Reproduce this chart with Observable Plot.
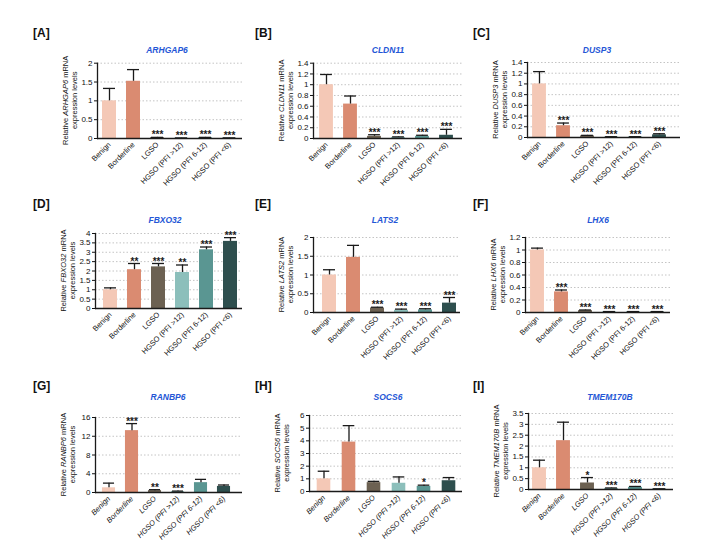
<!DOCTYPE html>
<html><head><meta charset="utf-8">
<script src="https://cdn.jsdelivr.net/npm/d3@7"></script>
<script src="https://cdn.jsdelivr.net/npm/@observablehq/plot@0.6"></script>
<style>
body{margin:0;background:#fff;font-family:"Liberation Sans",Arial,sans-serif;}
#root{position:relative;width:714px;height:552px;overflow:hidden;background:#fff;}
#root svg{position:absolute;}
</style></head><body><div id="root"></div>
<script>
// ---------- data ----------
const categories = ["Benign","Borderline","LGSO","HGSO (PFI >12)","HGSO (PFI 6-12)","HGSO (PFI <6)"];
const barColors = ["#F4C8B6","#DA8B71","#6C6152","#8CBFBB","#5A9692","#2E4F4E"];
const genes = ["ARHGAP6","CLDN11","DUSP3","FBXO32","LATS2","LHX6","RANBP6","SOCS6","TMEM170B"];
const panelLabels = ["[A]","[B]","[C]","[D]","[E]","[F]","[G]","[H]","[I]"];

const meanARHGAP6 = [1.0, 1.52, 0.02, 0.01, 0.02, 0.01];
const errARHGAP6  = [0.33, 0.31, 0.01, 0.005, 0.01, 0.005];
const sigARHGAP6  = ["", "", "***", "***", "***", "***"];
const ticksARHGAP6 = [0, 0.5, 1, 1.5, 2];

const meanCLDN11 = [1.0, 0.64, 0.04, 0.02, 0.04, 0.06];
const errCLDN11  = [0.19, 0.15, 0.03, 0.01, 0.02, 0.11];
const sigCLDN11  = ["", "", "***", "***", "***", "***"];
const ticksCLDN11 = [0, 0.2, 0.4, 0.6, 0.8, 1, 1.2, 1.4];

const meanDUSP3 = [1.0, 0.22, 0.03, 0.01, 0.01, 0.05];
const errDUSP3  = [0.23, 0.05, 0.01, 0.005, 0.005, 0.02];
const sigDUSP3  = ["", "***", "***", "***", "***", "***"];
const ticksDUSP3 = [0, 0.2, 0.4, 0.6, 0.8, 1, 1.2, 1.4];

const meanFBXO32 = [1.0, 2.07, 2.22, 1.92, 3.13, 3.58];
const errFBXO32  = [0.1, 0.33, 0.18, 0.4, 0.15, 0.2];
const sigFBXO32  = ["", "**", "***", "**", "***", "***"];
const ticksFBXO32 = [0, 0.5, 1, 1.5, 2, 2.5, 3, 3.5, 4];

const meanLATS2 = [1.0, 1.47, 0.12, 0.06, 0.07, 0.25];
const errLATS2  = [0.14, 0.32, 0.02, 0.03, 0.03, 0.15];
const sigLATS2  = ["", "", "***", "***", "***", "***"];
const ticksLATS2 = [0, 0.5, 1, 1.5, 2];

const meanLHX6 = [1.0, 0.33, 0.03, 0.01, 0.01, 0.01];
const errLHX6  = [0.03, 0.03, 0.01, 0.005, 0.005, 0.005];
const sigLHX6  = ["", "***", "***", "***", "***", "***"];
const ticksLHX6 = [0, 0.2, 0.4, 0.6, 0.8, 1, 1.2];

const meanRANBP6 = [1.0, 13.2, 0.4, 0.2, 2.1, 1.3];
const errRANBP6  = [1.0, 1.5, 0.2, 0.1, 0.7, 0.3];
const sigRANBP6  = ["", "***", "**", "***", "", ""];
const ticksRANBP6 = [0, 4, 8, 12, 16];

const meanSOCS6 = [1.0, 3.9, 0.7, 0.65, 0.4, 0.85];
const errSOCS6  = [0.6, 1.3, 0.1, 0.5, 0.1, 0.25];
const sigSOCS6  = ["", "", "", "", "*", ""];
const ticksSOCS6 = [0, 1, 2, 3, 4, 5, 6];

const meanTMEM170B = [1.0, 2.25, 0.3, 0.05, 0.1, 0.02];
const errTMEM170B  = [0.35, 0.85, 0.25, 0.02, 0.04, 0.01];
const sigTMEM170B  = ["", "", "*", "***", "***", "***"];
const ticksTMEM170B = [0, 0.5, 1, 1.5, 2, 2.5, 3, 3.5];

const seriesMeans = [meanARHGAP6, meanCLDN11, meanDUSP3, meanFBXO32, meanLATS2, meanLHX6, meanRANBP6, meanSOCS6, meanTMEM170B];
const seriesErrs  = [errARHGAP6, errCLDN11, errDUSP3, errFBXO32, errLATS2, errLHX6, errRANBP6, errSOCS6, errTMEM170B];
const seriesSigs  = [sigARHGAP6, sigCLDN11, sigDUSP3, sigFBXO32, sigLATS2, sigLHX6, sigRANBP6, sigSOCS6, sigTMEM170B];
const seriesTicks = [ticksARHGAP6, ticksCLDN11, ticksDUSP3, ticksFBXO32, ticksLATS2, ticksLHX6, ticksRANBP6, ticksSOCS6, ticksTMEM170B];

// ---------- layout (pixel geometry only) ----------
const layout = [
  {ox:30,  oy:20,  axisX:97,  rightX:242, bandStart:97,  bandEnd:241, y0:138, yTop:62.7, labelY:37,  titleX:167, titleY:53},
  {ox:250, oy:20,  axisX:313, rightX:462, bandStart:313, bandEnd:458, y0:138, yTop:62.7, labelY:37,  titleX:388, titleY:53},
  {ox:470, oy:20,  axisX:527, rightX:680, bandStart:526.5, bandEnd:671.5, y0:137, yTop:62, labelY:37,  titleX:597, titleY:53},
  {ox:30,  oy:190, axisX:95,  rightX:242, bandStart:97.5, bandEnd:241.5, y0:308, yTop:233, labelY:208, titleX:165, titleY:223},
  {ox:250, oy:190, axisX:313, rightX:460, bandStart:316.5, bandEnd:460.5, y0:312, yTop:237, labelY:208, titleX:385, titleY:223},
  {ox:470, oy:190, axisX:525, rightX:670, bandStart:525, bandEnd:669.5, y0:312, yTop:237, labelY:208, titleX:598, titleY:223},
  {ox:30,  oy:360, axisX:95,  rightX:242, bandStart:94.5, bandEnd:238, y0:492, yTop:417, labelY:390, titleX:168, titleY:400},
  {ox:250, oy:360, axisX:309, rightX:462, bandStart:309.8, bandEnd:462.2, y0:491, yTop:415, labelY:390, titleX:388, titleY:400},
  {ox:470, oy:360, axisX:528, rightX:673, bandStart:527, bandEnd:671.5, y0:489, yTop:413, labelY:390, titleX:610, titleY:400}
];
const labelXs = [33, 255, 473];
const FONT = "Liberation Sans, Arial, sans-serif";
const W = 225, H = 185;

const root = document.getElementById("root");

genes.forEach((gene, i) => {
  const g = layout[i];
  const ticks = seriesTicks[i];
  const rows = categories.map((c, k) => ({cat: c, mean: seriesMeans[i][k], err: seriesErrs[i][k], sig: seriesSigs[i][k]}));
  const band = (g.bandEnd - g.bandStart) / categories.length;
  const barInset = (band - 14) / 2;
  const capInset = (band - 12) / 2;
  const italic = i >= 6;
  const chart = Plot.plot({
    width: W, height: H,
    marginLeft: g.axisX - g.ox,
    marginRight: W - (g.rightX - g.ox),
    marginTop: g.yTop - g.oy,
    marginBottom: H - (g.y0 - g.oy),
    style: {background: "transparent", overflow: "visible", fontFamily: FONT, color: "#111"},
    x: {domain: categories, range: [g.bandStart - g.ox, g.bandEnd - g.ox], padding: 0},
    y: {domain: [0, ticks[ticks.length - 1]]},
    color: {domain: categories, range: barColors},
    marks: [
      Plot.gridY(ticks.filter(t => t > 0), {stroke: "#c4c4c4", strokeOpacity: 1, strokeDasharray: "1.5,2"}),
      Plot.barY(rows, {x: "cat", y: "mean", fill: "cat", insetLeft: barInset, insetRight: barInset}),
      Plot.ruleX(rows, {x: "cat", y1: "mean", y2: d => d.mean + d.err, stroke: "#1a1a1a", strokeWidth: 1.3}),
      Plot.tickY(rows, {x: "cat", y: d => d.mean + d.err, insetLeft: capInset, insetRight: capInset, stroke: "#1a1a1a", strokeWidth: 1.3}),
      Plot.text(rows, {x: "cat", y: d => d.mean + d.err, text: "sig", dy: 1, lineAnchor: "bottom", fontSize: 10, fontWeight: "bold", fill: "#1a1a1a"}),
      Plot.ruleY([0], {stroke: "#1a1a1a", strokeWidth: 1.3}),
      Plot.frame({anchor: "left", stroke: "#1a1a1a", strokeWidth: 1.3}),
      Plot.axisY({ticks, tickSize: 3, tickPadding: 2, fontSize: 8, tickFormat: d3.format("~g"), label: null}),
      Plot.axisX({tickRotate: -45, tickSize: 0, tickPadding: 5, fontSize: 7.5, fontStyle: italic ? "italic" : "normal", label: null})
    ]
  });
  chart.style.left = g.ox + "px";
  chart.style.top = g.oy + "px";
  root.appendChild(chart);
});

// ---------- overlay texts ----------
const ov = d3.select(root).append("svg")
  .attr("width", 714).attr("height", 552)
  .style("left", "0px").style("top", "0px")
  .style("pointer-events", "none")
  .attr("font-family", FONT);

genes.forEach((gene, i) => {
  const g = layout[i];
  ov.append("text").attr("x", labelXs[i % 3]).attr("y", g.labelY)
    .attr("font-size", 12).attr("font-weight", "bold").attr("fill", "#111")
    .text(panelLabels[i]);
  ov.append("text").attr("x", g.titleX).attr("y", g.titleY)
    .attr("text-anchor", "middle").attr("font-size", 8.5).attr("font-weight", "bold")
    .attr("font-style", "italic").attr("fill", "#2456D6").text(gene);
  const yc = (g.y0 + g.yTop) / 2;
  const t1 = ov.append("text").attr("transform", `translate(${g.axisX - 29.5},${yc}) rotate(-90)`)
    .attr("text-anchor", "middle").attr("font-size", 7.5).attr("fill", "#111");
  t1.append("tspan").text("Relative ");
  t1.append("tspan").attr("font-style", "italic").text(gene);
  t1.append("tspan").text(" mRNA");
  ov.append("text").attr("transform", `translate(${g.axisX - 20.5},${yc}) rotate(-90)`)
    .attr("text-anchor", "middle").attr("font-size", 7.5).attr("fill", "#111")
    .text("expression levels");
});
</script></body></html>
